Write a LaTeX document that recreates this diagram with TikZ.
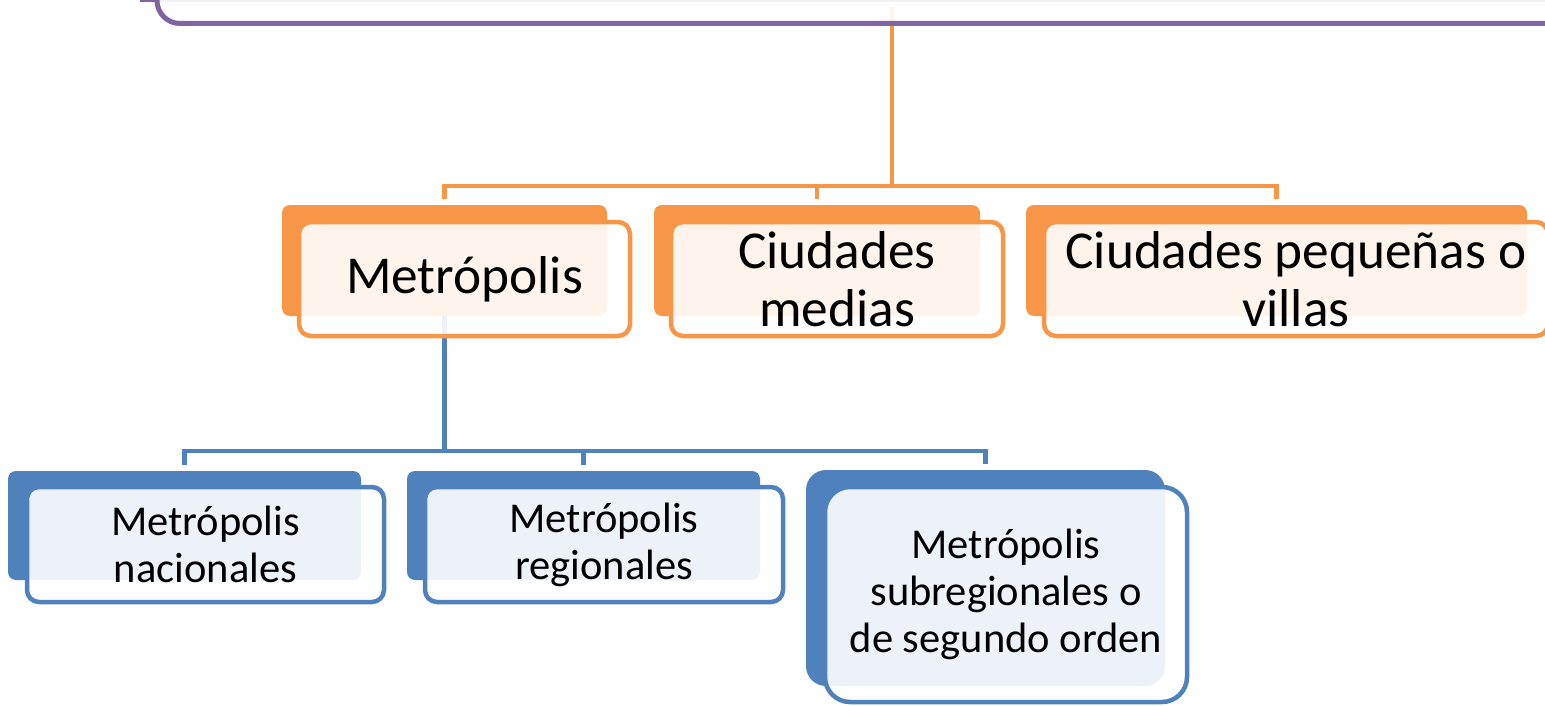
\documentclass[tikz,border=0pt]{standalone}
\usepackage{fontspec}
\setmainfont{Carlito}
\definecolor{orgdark}{HTML}{F79646}
\definecolor{bludark}{HTML}{4F81BD}
\definecolor{purdark}{HTML}{8064A2}
\tikzset{
  obk/.style={fill=orgdark, rounded corners=8pt, inner sep=0pt},
  obx/.style={draw=orgdark, line width=4.5pt, fill=white, fill opacity=0.9, text opacity=1, rounded corners=12pt, inner sep=0pt, align=center, font=\fontsize{53.3}{58}\selectfont},
  bbk/.style={fill=bludark, rounded corners=8pt, inner sep=0pt},
  bbx/.style={draw=bludark, line width=4.5pt, fill=white, fill opacity=0.9, text opacity=1, rounded corners=12pt, inner sep=0pt, align=center, font=\fontsize{42.5}{47}\selectfont},
  oline/.style={draw=orgdark, line width=4.5pt},
  bline/.style={draw=bludark, line width=4.5pt},
}
\begin{document}
\begin{tikzpicture}[x=1pt, y=-1pt]
\useasboundingbox (0,0) rectangle (1545,706);
\clip (0,0) rectangle (1545,706);
\fill[purdark] (140,-100) rectangle (1600,2.5);
\coordinate (s0) at (892,7);
\coordinate (j0) at (892,186);
\draw[oline] (s0) -- (j0);
\node[draw=purdark, line width=5pt, fill=white, fill opacity=0.9, rounded corners=23pt, minimum width=1443pt, minimum height=83.5pt, inner sep=0pt] (top) at (878.5,-18.25){};
% ciudades
\node[obk, minimum width=325pt, minimum height=111pt] (bk0) at (444.5,260.5){};
\node[obk, minimum width=326pt, minimum height=111pt] (bk1) at (817,260.5){};
\node[obk, minimum width=501pt, minimum height=111pt] (bk2) at (1276.5,260.5){};
\draw[oline, shorten >=6pt] (j0) -| (bk0.north);
\draw[oline, shorten >=6pt] (j0) -| (bk1.north);
\draw[oline, shorten >=6pt] (j0) -| (bk2.north);
% metropolis
\coordinate (j1) at (444.5,451);
\draw[bline] (bk0.south) -- (j1);
\node[bbk, minimum width=353pt, minimum height=109pt] (bk3) at (184.5,525.5){};
\node[bbk, minimum width=353pt, minimum height=109pt] (bk4) at (583.5,525.5){};
\node[bbk, rounded corners=20pt, minimum width=359pt, minimum height=216pt] (bk5) at (985.5,578){};
\draw[bline, shorten >=6pt] (j1) -| (bk3.north);
\draw[bline, shorten >=6pt] (j1) -| (bk4.north);
\draw[bline, shorten >=6pt] (j1) -| (bk5.north);
\node[obx, minimum width=331pt, minimum height=114pt] (bx0) at (464.5,279){\raisebox{-4pt}{Metrópolis}};
\node[obx, minimum width=332pt, minimum height=114pt] (bx1) at (837,279){Ciudades\\medias};
\node[obx, minimum width=504pt, minimum height=114pt] (bx2) at (1296,279){Ciudades pequeñas o\\villas};
\node[bbx, minimum width=357pt, minimum height=115pt] (bx3) at (205.5,544.5){Metrópolis\\nacionales};
\node[bbx, minimum width=358pt, minimum height=115pt] (bx4) at (604,544.5){Metrópolis\\regionales};
\node[bbx, rounded corners=25pt, minimum width=362pt, minimum height=215pt] (bx5) at (1006,594.5){Metrópolis\\subregionales o\\de segundo orden};
\end{tikzpicture}
\end{document}
